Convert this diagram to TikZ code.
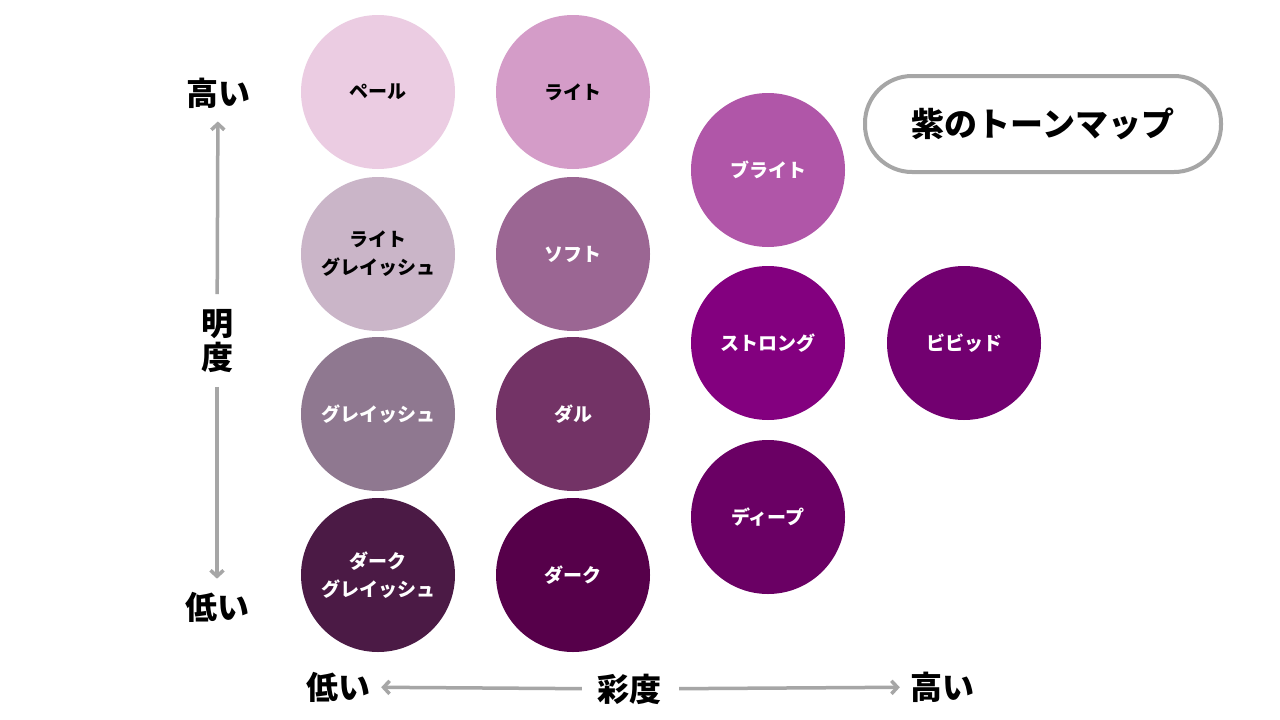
\documentclass[tikz,border=0pt]{standalone}
\usepackage{fontspec}
\setmainfont{Noto Sans CJK JP}
\usepackage{tikz}
\usetikzlibrary{calc}
\usetikzlibrary{arrows.meta}
\definecolor{axisgray}{HTML}{A6A6A6}
\definecolor{pale}{HTML}{EBCCE2}
\definecolor{light}{HTML}{D49CC8}
\definecolor{bright}{HTML}{B056A8}
\definecolor{lightgrayish}{HTML}{CAB5C8}
\definecolor{soft}{HTML}{9B6693}
\definecolor{strong}{HTML}{83007F}
\definecolor{vivid}{HTML}{720070}
\definecolor{grayish}{HTML}{8F7890}
\definecolor{dull}{HTML}{733366}
\definecolor{deep}{HTML}{6A0064}
\definecolor{darkgrayish}{HTML}{4B1A45}
\definecolor{dark}{HTML}{56004A}
\tikzset{
	tone/.style={circle, fill=#1, minimum size=154pt, inner sep=0pt, align=center, text=white,
		font=\bfseries\fontsize{19}{28}\selectfont},
	axislabel/.style={inner sep=0pt, align=center, font=\bfseries\fontsize{32}{34}\selectfont},
	axisarrow/.style={axisgray, line width=3.5pt, >={Straight Barb[length=6pt,width=13pt]}},
	titlebox/.style={draw=axisgray, line width=4pt, rounded corners=47pt, minimum width=356pt,
		minimum height=96pt, font=\bfseries\fontsize{33}{36}\selectfont},
}
\begin{document}
\begin{tikzpicture}[x=1pt,y=-1pt]
		\useasboundingbox[fill=white] (0,0) rectangle (1280,720);
		% low saturation column
		\node[tone=pale,text=black] (pale) at (378,92) {ペール};
		\node[tone=lightgrayish,text=black] (ltg) at (378,254) {ライト\\グレイッシュ};
		\node[tone=grayish] (gray) at (378,414) {グレイッシュ};
		\node[tone=darkgrayish] (dkg) at (378,575) {ダーク\\グレイッシュ};
		\node[tone=light,text=black] (light) at (573,92) {ライト};
		\node[tone=soft] (soft) at (573,254) {ソフト};
		\node[tone=dull] (dull) at (573,414) {ダル};
		\node[tone=dark] (dark) at (573,575) {ダーク};
		% high saturation
		\node[tone=bright] (bright) at (768,170) {ブライト};
		\node[tone=strong] (strong) at (768,343) {ストロング};
		\node[tone=deep] (deep) at (768,517) {ディープ};
		\node[tone=vivid] (vivid) at (964,343) {ビビッド};
		\node[titlebox] (title) at (1043,124) {紫のトーンマップ};
		% lightness axis
		\node[axislabel] (lumhi) at (218,93) {高い};
		\node[axislabel] (lum) at (217,341) {明\\度};
		\node[axislabel] (lumlo) at (217,607) {低い};
		\draw[axisarrow,->,shorten <=15pt,shorten >=13pt] (lum) -- (lumhi);
		\draw[axisarrow,->,shorten <=14pt,shorten >=13pt] (lum) -- (lumlo);
		% saturation axis
		\node[axislabel] (satlo) at (338,687) {低い};
		\node[axislabel] (sat) at (629,689) {彩度};
		\node[axislabel] (sathi) at (942,687) {高い};
		\draw[axisarrow,->,shorten <=15pt,shorten >=11pt] (sat) -- (satlo);
		\draw[axisarrow,->,shorten <=18pt,shorten >=10pt] (sat) -- (sathi);
	\end{tikzpicture}
\end{document}
